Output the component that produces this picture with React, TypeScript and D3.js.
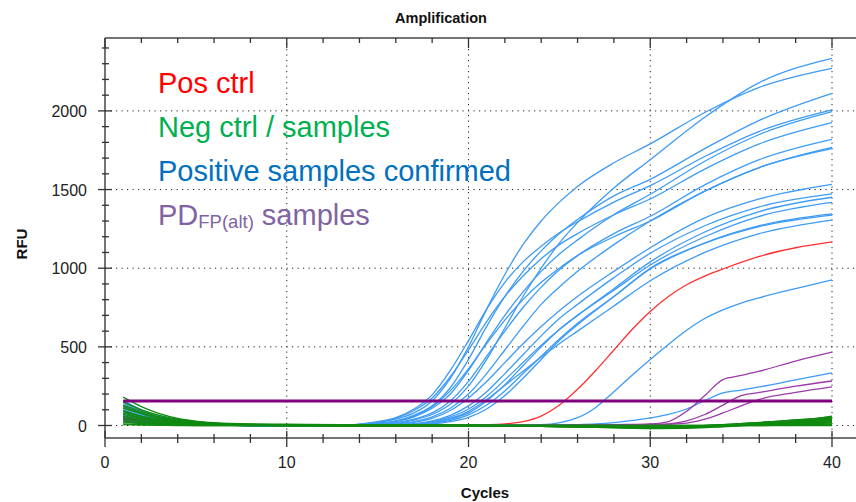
import React from "react";
import * as d3 from "d3";

const W = 856;
const H = 502;

// ---------- data ----------
const BLUE_CYCLES = [1, 2, 3, 4, 6, 8, 12, 15, 16, 17, 18, 19, 20, 21, 22, 23, 24, 25, 26, 28, 30, 33, 36, 40];
const BLUE_CURVES: number[][] = [
  [160, 100, 60, 35, 12, 4, -3, 5, 15, 35, 70, 135, 250, 420, 620, 820, 1000, 1160, 1290, 1510, 1690, 1960, 2180, 2334],
  [140, 90, 55, 32, 10, 3, -4, 20, 40, 80, 156, 300, 500, 740, 960, 1150, 1300, 1420, 1520, 1670, 1790, 1990, 2150, 2271],
  [125, 80, 48, 28, 9, 2, -5, 15, 30, 65, 125, 240, 420, 630, 820, 980, 1110, 1220, 1310, 1460, 1565, 1760, 1940, 2112],
  [110, 70, 42, 25, 8, 2, -4, 25, 50, 105, 195, 350, 540, 740, 910, 1040, 1140, 1225, 1295, 1420, 1525, 1710, 1870, 2006],
  [100, 62, 38, 22, 7, 1, -5, 10, 25, 55, 110, 200, 350, 530, 700, 850, 980, 1090, 1180, 1340, 1470, 1680, 1850, 1995],
  [90, 56, 34, 20, 6, 1, -3, 20, 45, 95, 175, 310, 480, 660, 820, 950, 1060, 1150, 1220, 1340, 1440, 1630, 1790, 1925],
  [80, 50, 30, 18, 5, 0, -4, 8, 18, 40, 80, 156, 280, 440, 600, 750, 880, 990, 1080, 1220, 1330, 1530, 1690, 1819],
  [72, 45, 27, 16, 5, 0, -6, 12, 28, 60, 120, 220, 360, 520, 670, 800, 910, 1000, 1080, 1200, 1300, 1490, 1640, 1768],
  [65, 40, 24, 14, 4, 0, -5, 4, 10, 25, 55, 110, 200, 330, 480, 630, 770, 880, 980, 1150, 1300, 1490, 1640, 1760],
  [58, 36, 22, 13, 4, 0, -4, 3, 8, 20, 45, 95, 175, 280, 400, 520, 630, 730, 820, 980, 1130, 1320, 1440, 1533],
  [52, 32, 19, 11, 3, 0, -5, 1, 5, 12, 30, 65, 125, 215, 330, 450, 570, 680, 770, 940, 1095, 1270, 1390, 1472],
  [46, 28, 17, 10, 3, 0, -6, 0, 3, 8, 18, 40, 80, 156, 260, 380, 500, 610, 700, 870, 1040, 1230, 1360, 1451],
  [40, 25, 15, 9, 3, 0, -4, 1, 4, 10, 25, 55, 105, 185, 290, 400, 510, 610, 700, 860, 1020, 1200, 1330, 1419],
  [35, 22, 13, 8, 2, 0, -5, 0, 2, 6, 14, 32, 68, 130, 220, 330, 440, 550, 650, 820, 995, 1160, 1270, 1345],
  [30, 18, 11, 6, 2, 0, -3, 0, 1, 4, 10, 24, 52, 105, 190, 300, 420, 540, 640, 820, 1000, 1160, 1265, 1338],
  [25, 15, 9, 5, 1, 0, -4, 1, 3, 8, 20, 45, 90, 165, 255, 345, 435, 520, 600, 760, 920, 1100, 1220, 1306],
];

const RED_CYCLES = [1, 2, 3, 4, 6, 8, 12, 16, 19, 21, 22, 23, 24, 25, 26, 27, 28, 29, 30, 31, 32, 33, 34, 36, 38, 40];
const RED_CURVE = [40, 25, 15, 8, 3, 2, 5, 0, 2, 5, 10, 25, 60, 130, 230, 350, 480, 610, 725, 820, 895, 950, 995, 1075, 1130, 1167];

const LATE_CYCLES = [1, 2, 3, 4, 6, 10, 15, 20, 24, 26, 27, 28, 29, 30, 31, 32, 33, 34, 35, 36, 38, 40];
const LATE_BLUE_CURVES: number[][] = [
  [150, 95, 58, 34, 10, -3, -4, 0, 5, 50, 115, 215, 320, 420, 515, 605, 680, 735, 778, 812, 870, 925],
  [110, 70, 45, 28, 10, 0, -2, 0, 3, 6, 10, 18, 32, 48, 70, 105, 158, 207, 225, 245, 290, 334],
];
const PURPLE_CURVES: number[][] = [
  [60, 35, 20, 12, 5, 2, 0, 0, 2, 3, 4, 5, 7, 10, 25, 90, 190, 292, 318, 345, 410, 466],
  [45, 28, 16, 9, 4, 1, 0, 0, 1, 2, 3, 4, 5, 6, 10, 30, 70, 130, 190, 210, 250, 283],
  [35, 22, 12, 7, 3, 1, 0, 0, 0, 1, 2, 3, 4, 5, 8, 15, 40, 80, 125, 166, 210, 245],
];

const GREEN_CYCLES = [1, 2, 3, 4, 5, 6, 8, 10, 13, 16, 20, 24, 27, 30, 32, 34, 36, 38, 40];
const GREEN_CURVES: number[][] = [
  [180, 120, 75, 45, 28, 18, 10, 8, 5, 3, 2, 0, -5, -8, -5, 5, 20, 35, 55],
  [150, 100, 65, 40, 25, 15, 8, 5, 3, 2, 0, -2, -8, -15, -12, 0, 15, 30, 45],
  [130, 90, 55, 35, 20, 12, 6, 4, 2, 0, -2, -5, -10, -18, -15, -5, 10, 25, 40],
  [120, 80, 50, 30, 18, 11, 6, 4, 2, 1, 0, -3, -6, -14, -10, 2, 18, 35, 48],
  [110, 75, 45, 28, 16, 10, 5, 3, 2, 0, 0, -3, -8, -12, -10, 0, 12, 28, 60],
  [95, 60, 38, 22, 12, 7, 3, 2, 0, 0, -2, -5, -12, -20, -18, -8, 5, 18, 30],
  [90, 58, 36, 21, 12, 7, 4, 2, 1, 0, -1, -3, -7, -10, -6, 3, 14, 26, 38],
  [80, 50, 30, 18, 10, 6, 3, 2, 0, -2, -3, -5, -8, -10, -5, 5, 18, 30, 50],
  [70, 45, 28, 16, 9, 5, 2, 0, 0, -2, -3, -6, -10, -15, -12, -5, 5, 15, 25],
  [60, 40, 25, 14, 8, 4, 2, 0, -2, -3, -4, -6, -10, -12, -8, 2, 12, 22, 35],
  [50, 32, 20, 12, 6, 3, 1, 0, -1, -2, -2, -4, -6, -8, -6, 0, 6, 14, 20],
  [40, 25, 15, 8, 4, 2, 1, 0, 0, 0, -1, -2, -4, -6, -4, 0, 5, 10, 15],
  [30, 18, 10, 6, 3, 2, 0, 0, 0, 0, 0, -1, -2, -3, -2, 0, 2, 5, 8],
  [20, 12, 6, 3, 2, 1, 0, 0, 0, 0, 0, 0, 0, -2, -1, 0, 1, 2, 3],
  [10, 6, 3, 1, 0, 0, 0, 0, 0, 0, 0, 0, 0, 0, 0, 0, 0, 1, 2],
  [5, 3, 1, 0, 0, 0, 0, 0, 0, 0, 0, 0, 0, 0, 0, 0, 0, 0, 0],
];

const THRESHOLD = 156;
const THRESHOLD_RANGE = [1, 40];

const X_MAJOR = [0, 10, 20, 30, 40];
const X_MINOR = [2, 4, 6, 8, 12, 14, 16, 18, 22, 24, 26, 28, 32, 34, 36, 38];
const Y_MAJOR = [0, 500, 1000, 1500, 2000];
const Y_MINOR = [100, 200, 300, 400, 600, 700, 800, 900, 1100, 1200, 1300, 1400, 1600, 1700, 1800, 1900, 2100, 2200, 2300, 2400];

const LEGEND_LABELS = ["Pos ctrl", "Neg ctrl / samples", "Positive samples confirmed", "PD"];
const LEGEND_COLORS = ["#ff0000", "#00b050", "#0070c0", "#8064a2"];

// ---------- layout ----------
const LEFT = 105;
const TOP = 38;
const BOTTOM = 438;
const RIGHT = W;

const x = d3.scaleLinear().domain([0, 40]).range([105, 832]);
const y = d3.scaleLinear().domain([0, 2000]).range([425.5, 110.9]);

const FONT = "'Liberation Sans', Arial, Helvetica, sans-serif";

function pathFor(cycles: number[], vals: number[]) {
  const line = d3
    .line<number>()
    .x((_, i) => x(cycles[i]))
    .y((v) => y(v))
    .curve(d3.curveMonotoneX);
  return line(vals) || "";
}

export default function App() {
  const dotted = { stroke: "#222", strokeWidth: 1, strokeDasharray: "1.2,4.3" };
  return (
    <svg width={W} height={H} style={{ position: "absolute", left: 0, top: 0, background: "#fff" }}>
      <rect x={0} y={0} width={W} height={H} fill="#fff" />
      {/* grid */}
      {X_MAJOR.filter((d) => d > 0).map((d) => (
        <line key={"gx" + d} x1={x(d)} x2={x(d)} y1={TOP} y2={BOTTOM} {...dotted} />
      ))}
      {Y_MAJOR.map((d) => (
        <line key={"gy" + d} x1={LEFT} x2={RIGHT} y1={y(d)} y2={y(d)} {...dotted} />
      ))}

      {/* curves */}
      <g fill="none" strokeWidth={1.3} strokeLinejoin="round">
        {BLUE_CURVES.map((c, i) => (
          <path key={"b" + i} d={pathFor(BLUE_CYCLES, c)} stroke="#3d9bf5" />
        ))}
        {LATE_BLUE_CURVES.map((c, i) => (
          <path key={"lb" + i} d={pathFor(LATE_CYCLES, c)} stroke="#3d9bf5" />
        ))}
        <path d={pathFor(RED_CYCLES, RED_CURVE)} stroke="#ff3030" />
        {PURPLE_CURVES.map((c, i) => (
          <path key={"p" + i} d={pathFor(LATE_CYCLES, c)} stroke="#9b3aa8" />
        ))}
        {GREEN_CURVES.map((c, i) => (
          <path key={"g" + i} d={pathFor(GREEN_CYCLES, c)} stroke="#108a10" />
        ))}
      </g>

      {/* threshold */}
      <line
        x1={x(THRESHOLD_RANGE[0])}
        x2={x(THRESHOLD_RANGE[1])}
        y1={y(THRESHOLD)}
        y2={y(THRESHOLD)}
        stroke="#800080"
        strokeWidth={3}
      />

      {/* frame / axes */}
      <g stroke="#444" strokeWidth={1.5}>
        <line x1={LEFT} x2={RIGHT} y1={TOP} y2={TOP} />
        <line x1={LEFT} x2={RIGHT} y1={BOTTOM} y2={BOTTOM} />
        <line x1={LEFT} x2={LEFT} y1={TOP} y2={BOTTOM} />
      </g>
      <g stroke="#333" strokeWidth={1.3}>
        {X_MAJOR.map((d) => (
          <line key={"xt" + d} x1={x(d)} x2={x(d)} y1={BOTTOM - 7} y2={BOTTOM + 9} />
        ))}
        {X_MINOR.map((d) => (
          <line key={"xm" + d} x1={x(d)} x2={x(d)} y1={BOTTOM - 4} y2={BOTTOM + 5} />
        ))}
        {X_MAJOR.map((d) => (
          <line key={"xtt" + d} x1={x(d)} x2={x(d)} y1={TOP} y2={TOP + 10} />
        ))}
        {X_MINOR.map((d) => (
          <line key={"xtm" + d} x1={x(d)} x2={x(d)} y1={TOP} y2={TOP + 5} />
        ))}
        {Y_MAJOR.map((d) => (
          <line key={"yt" + d} x1={LEFT - 7} x2={LEFT + 7} y1={y(d)} y2={y(d)} />
        ))}
        {Y_MINOR.map((d) => (
          <line key={"ym" + d} x1={LEFT - 3} x2={LEFT + 4} y1={y(d)} y2={y(d)} />
        ))}
      </g>

      {/* tick labels */}
      <g fontFamily={FONT} fontSize={16} fill="#222">
        {X_MAJOR.map((d) => (
          <text key={"xl" + d} x={x(d)} y={468} textAnchor="middle">
            {d}
          </text>
        ))}
        {Y_MAJOR.map((d) => (
          <text key={"yl" + d} x={87} y={y(d) + 6} textAnchor="end">
            {d}
          </text>
        ))}
      </g>

      {/* titles */}
      <text x={441} y={23} textAnchor="middle" fontFamily={FONT} fontWeight="bold" fontSize={14.5} fill="#111">
        Amplification
      </text>
      <text x={485} y={498} textAnchor="middle" fontFamily={FONT} fontWeight="bold" fontSize={15} fill="#111">
        Cycles
      </text>
      <text
        transform="translate(27,244) rotate(-90)"
        textAnchor="middle"
        fontFamily={FONT}
        fontWeight="bold"
        fontSize={15}
        fill="#111"
      >
        RFU
      </text>

      {/* legend */}
      <g fontFamily={FONT} fontSize={29}>
        {LEGEND_LABELS.map((t, i) => (
          <text key={"lg" + i} x={158} y={93 + i * 44} fill={LEGEND_COLORS[i]}>
            {t}
            {i === 3 ? (
              <>
                <tspan fontSize={18.5} dy={3}>
                  FP(alt)
                </tspan>
                <tspan dy={-3}> samples</tspan>
              </>
            ) : null}
          </text>
        ))}
      </g>
    </svg>
  );
}
